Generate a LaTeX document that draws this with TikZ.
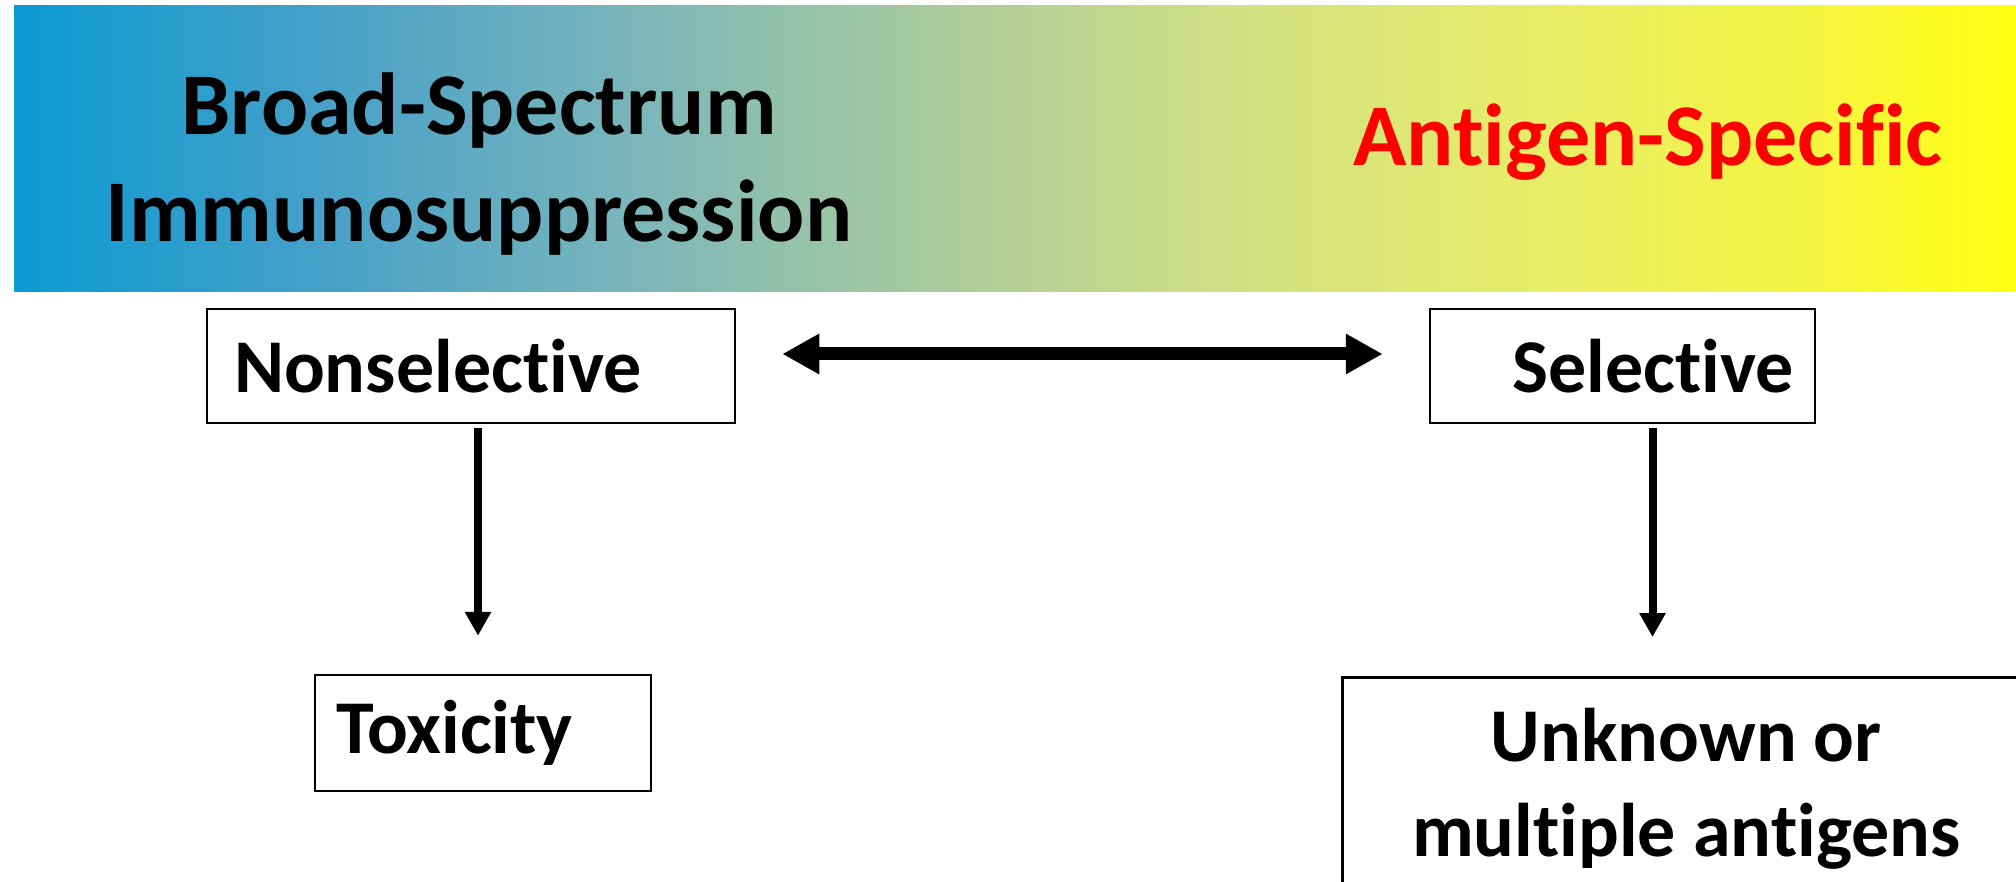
\documentclass[tikz,border=0pt]{standalone}
\usepackage{fontspec}
\setmainfont{Carlito}[Ligatures={NoCommon}]
\usetikzlibrary{arrows.meta}
\definecolor{g0}{HTML}{0A9BD3}
\definecolor{g1}{HTML}{45A0C8}
\definecolor{g2}{HTML}{78B4BC}
\definecolor{g3}{HTML}{97C3A8}
\definecolor{g4}{HTML}{B5D096}
\definecolor{g5}{HTML}{CFDF84}
\definecolor{g6}{HTML}{E6EC6A}
\definecolor{g7}{HTML}{F5F540}
\definecolor{g8}{HTML}{FFFF10}
\definecolor{redtxt}{HTML}{FF0000}
\pgfdeclarehorizontalshading{bannershade}{100bp}{color(0bp)=(g0); color(25bp)=(g0); color(32.5bp)=(g1); color(40bp)=(g2); color(45bp)=(g3); color(50bp)=(g4); color(55bp)=(g5); color(62.5bp)=(g6); color(70bp)=(g7); color(75bp)=(g8); color(100bp)=(g8)}
\begin{document}
\begin{tikzpicture}[x=1pt,y=-1pt,
  box/.style={draw=black, line width=2.5pt, inner ysep=0pt, font=\bfseries\fontsize{76}{95}\selectfont},
  bigarrow/.style={line width=13pt, {Triangle[width=38pt,length=37pt]}-{Triangle[width=38pt,length=37pt]}},
  downarrow/.style={line width=8pt, -{Triangle[width=25pt,length=24pt]}},
  bannertxt/.style={font=\bfseries\fontsize{88}{107}\selectfont}]
\useasboundingbox (0,0) rectangle (2016,882);
\fill[white] (0,0) rectangle (2016,882);
\shade[shading=bannershade] (14,6) rectangle (2016,292);
\node[bannertxt, align=center] (broad) at (479,164.5) {Broad-Spectrum\\Immunosuppression};
\node[bannertxt, text=redtxt, anchor=base] (antigen) at (1648,166) {Antigen-Specific};
\node[box, minimum width=528pt, minimum height=114pt, inner xsep=27pt, text width=474pt, align=left] (ns) at (471,366) {Nonselective};
\node[box, minimum width=385pt, minimum height=114pt, inner xsep=21pt, text width=343pt, align=right] (sel) at (1622.5,366) {Selective};
\node[box, minimum width=336pt, minimum height=116pt, inner xsep=21pt, text width=294pt, align=left] (tox) at (483,733) {Toxicity};
\node[box, minimum width=688pt, minimum height=223pt, align=center, anchor=north west] (unk) at (1341,676) {Unknown or\\multiple antigens};
\draw[bigarrow, shorten <=46pt, shorten >=46pt] ([yshift=12pt]ns.east) -- ([yshift=12pt]sel.west);
\draw[downarrow, shorten <=4pt, shorten >=38pt] ([xshift=7pt]ns.south) -- ([xshift=7pt]ns.south |- tox.north);
\draw[downarrow, shorten <=4pt, shorten >=39pt] ([xshift=30pt]sel.south) -- ([xshift=30pt]sel.south |- unk.north);
\end{tikzpicture}
\end{document}
